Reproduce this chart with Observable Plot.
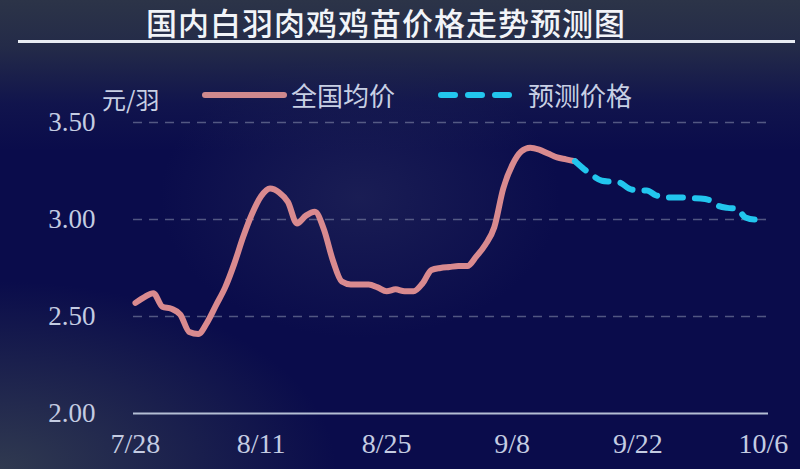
<!DOCTYPE html>
<html>
<head>
<meta charset="utf-8">
<script src="https://cdn.jsdelivr.net/npm/d3@7"></script>
<script src="https://cdn.jsdelivr.net/npm/@observablehq/plot@0.6"></script>
<style>
  html, body { margin: 0; padding: 0; }
  body { width: 800px; height: 469px; overflow: hidden; }
  #wrap {
    position: relative; width: 800px; height: 469px; overflow: hidden;
    background:
      radial-gradient(ellipse 42% 40% at 0% 100%, rgba(50,60,80,0.95), rgba(50,60,80,0) 100%),
      linear-gradient(to bottom, rgba(44,52,72,1) 0%, rgba(40,48,72,0.85) 10%, rgba(30,36,80,0.35) 22%, rgba(20,24,80,0) 32%),
      radial-gradient(ellipse 25% 30% at 45% 42%, rgba(45,50,95,0.45), rgba(45,50,95,0) 100%),
      #0a0c4b;
  }
  #title {
    position: absolute; left: 0; top: 2px; width: 772px; text-align: center;
    font-family: "Noto Sans CJK SC", sans-serif; font-weight: 500; font-size: 31px;
    color: #f2f4f8; letter-spacing: 1px; line-height: 40px;
  }
  #rule { position: absolute; left: 18px; top: 40px; width: 777px; height: 3px; background: #e8ecf2; }
  #unit { position: absolute; left: 102px; top: 84px; font-family: "Noto Sans CJK SC", sans-serif; font-size: 24px; color: #c8d0e4; line-height: 30px; }
  .leg { position: absolute; top: 80px; font-family: "Noto Sans CJK SC", sans-serif; font-size: 26px; color: #c8d0e4; line-height: 30px; }
  svg.plot { position: absolute; left: 0; top: 0; }
</style>
</head>
<body>
<div id="wrap">
  <div id="title">国内白羽肉鸡鸡苗价格走势预测图</div>
  <div id="rule"></div>
  <div id="unit">元/羽</div>
  <svg id="legsvg" width="800" height="120" style="position:absolute;left:0;top:0;">
    <line x1="205" y1="95" x2="284" y2="95" stroke="#cf898d" stroke-width="6" stroke-linecap="round"/>
    <line x1="441" y1="95" x2="510" y2="95" stroke="#22c6ee" stroke-width="6" stroke-linecap="round" stroke-dasharray="14,13"/>
  </svg>
  <div class="leg" style="left:291px;">全国均价</div>
  <div class="leg" style="left:528px;">预测价格</div>
</div>
<script>
// Data
const startDate = "2023-07-28";
// daily national average price (元/羽), 7/28 – 9/15
const actualValues = [2.57, 2.60, 2.62, 2.55, 2.54, 2.51, 2.42, 2.41, 2.47, 2.56,
  2.65, 2.77, 2.91, 3.03, 3.12, 3.16, 3.14, 3.09, 2.98, 3.02,
  3.04, 2.95, 2.79, 2.68, 2.665, 2.665, 2.665, 2.65, 2.63, 2.64,
  2.63, 2.63, 2.67, 2.74, 2.75, 2.755, 2.76, 2.76, 2.81, 2.87,
  2.96, 3.16, 3.28, 3.35, 3.37, 3.36, 3.34, 3.32, 3.31, 3.30];
// daily forecast price, 9/15 – 10/6
const forecastValues = [3.30, 3.26, 3.225, 3.20, 3.195, 3.19, 3.16, 3.15, 3.15, 3.125,
  3.115, 3.113, 3.113, 3.11, 3.108, 3.10, 3.07, 3.06, 3.057, 3.01, 3.00, 3.00];
const forecastStartOffset = 49;
const xTickDates = ["2023-07-28", "2023-08-11", "2023-08-25", "2023-09-08", "2023-09-22", "2023-10-06"];
const xTickLabels = ["7/28", "8/11", "8/25", "9/8", "9/22", "10/6"];
const yTicks = [2.0, 2.5, 3.0, 3.5];
const yTickLabels = ["2.00", "2.50", "3.00", "3.50"];

const DAY = 86400000;
const t0 = new Date(startDate + "T00:00:00Z");
const actual = actualValues.map((v, i) => ({date: new Date(+t0 + i * DAY), value: v}));
const forecast = forecastValues.map((v, i) => ({date: new Date(+t0 + (forecastStartOffset + i) * DAY), value: v}));
const tickDates = xTickDates.map(s => new Date(s + "T00:00:00Z"));
const labelOf = new Map(tickDates.map((d, i) => [+d, xTickLabels[i]]));
const yLabelOf = new Map(yTicks.map((v, i) => [v, yTickLabels[i]]));

const plot = Plot.plot({
  width: 800,
  height: 469,
  marginLeft: 133,
  marginRight: 32,
  marginTop: 122,
  marginBottom: 56,
  style: {background: "transparent", overflow: "visible"},
  x: {type: "utc", domain: [new Date(+t0 - 0.22 * DAY), new Date(+t0 + 70.57 * DAY)]},
  y: {domain: [2, 3.5]},
  marks: [
    Plot.ruleY([2.5, 3.0, 3.5], {stroke: "#8d93b0", strokeOpacity: 0.55, strokeWidth: 1.6, strokeDasharray: "9,7"}),
    Plot.ruleY([2.0], {stroke: "#b4bed4", strokeWidth: 2.2}),
    Plot.axisY({ticks: yTicks, tickSize: 0, tickPadding: 38, tickFormat: v => yLabelOf.get(v),
      fontSize: 27, fontFamily: "Liberation Serif", fill: "#c4cce2", label: null}),
    Plot.axisX({ticks: tickDates, tickSize: 0, tickPadding: 20, tickFormat: d => labelOf.get(+d),
      fontSize: 28, fontFamily: "Liberation Serif", fill: "#c4cce2", label: null}),
    Plot.line(actual, {x: "date", y: "value", stroke: "#d98a8f", strokeWidth: 6, curve: "monotone-x", strokeLinejoin: "round", strokeLinecap: "round"}),
    Plot.line(forecast, {x: "date", y: "value", stroke: "#22c6ee", strokeWidth: 6, curve: "monotone-x", strokeDasharray: "14,12", strokeLinecap: "round"})
  ]
});
document.getElementById("wrap").insertBefore(plot, document.getElementById("wrap").firstChild);
</script>
</body>
</html>
